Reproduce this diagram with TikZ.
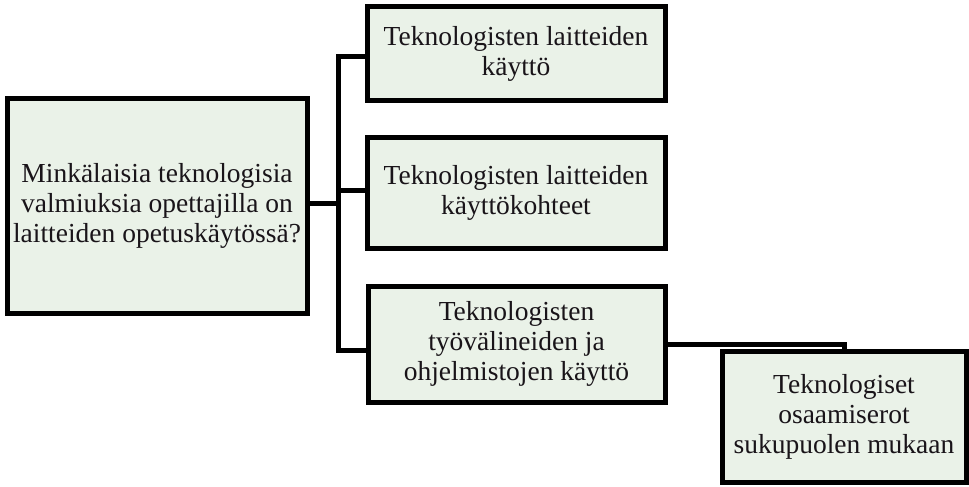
\documentclass[tikz,border=0pt]{standalone}
\usepackage{fontspec}
\setmainfont{Liberation Serif}
\definecolor{boxfill}{RGB}{234,242,232}
\definecolor{txt}{RGB}{25,20,25}
\begin{document}
\begin{tikzpicture}[x=1pt,y=-1pt,
  box/.style={draw=black, line width=5pt, fill=boxfill, rectangle,
    align=center, inner sep=0pt, text=txt, font=\fontsize{27.5}{30}\selectfont},
  conn/.style={draw=black, line width=5pt, line join=miter}]
\useasboundingbox (0,0) rectangle (969,487);
\node[box, minimum width=300pt, minimum height=215pt] (main) at (157,205.5)
  {Minkälaisia teknologisia\\valmiuksia opettajilla on\\laitteiden opetuskäytössä?};
\node[box, minimum width=298pt, minimum height=93pt] (b1) at (516,53.5)
  {Teknologisten laitteiden\\käyttö};
\node[box, minimum width=298pt, minimum height=111pt] (b2) at (516,192.5)
  {Teknologisten laitteiden\\käyttökohteet};
\node[box, minimum width=297pt, minimum height=116pt] (b3) at (516.5,344)
  {Teknologisten\\työvälineiden ja\\ohjelmistojen käyttö};
\node[box, minimum width=244pt, minimum height=131pt] (b4) at (844,416.5)
  {Teknologiset\\osaamiserot\\sukupuolen mukaan};
\coordinate (trunk) at (338,203);
\draw[conn] ([yshift=2.5pt]main.east) -- (trunk);
\draw[conn] ([yshift=-3.5pt]b1.west) -| (trunk) |- ([yshift=-6pt]b3.west);
\draw[conn] (trunk) |- ([yshift=2.5pt]b2.west);
\draw[conn] (b3.east) -| (b4.north);
\end{tikzpicture}
\end{document}
